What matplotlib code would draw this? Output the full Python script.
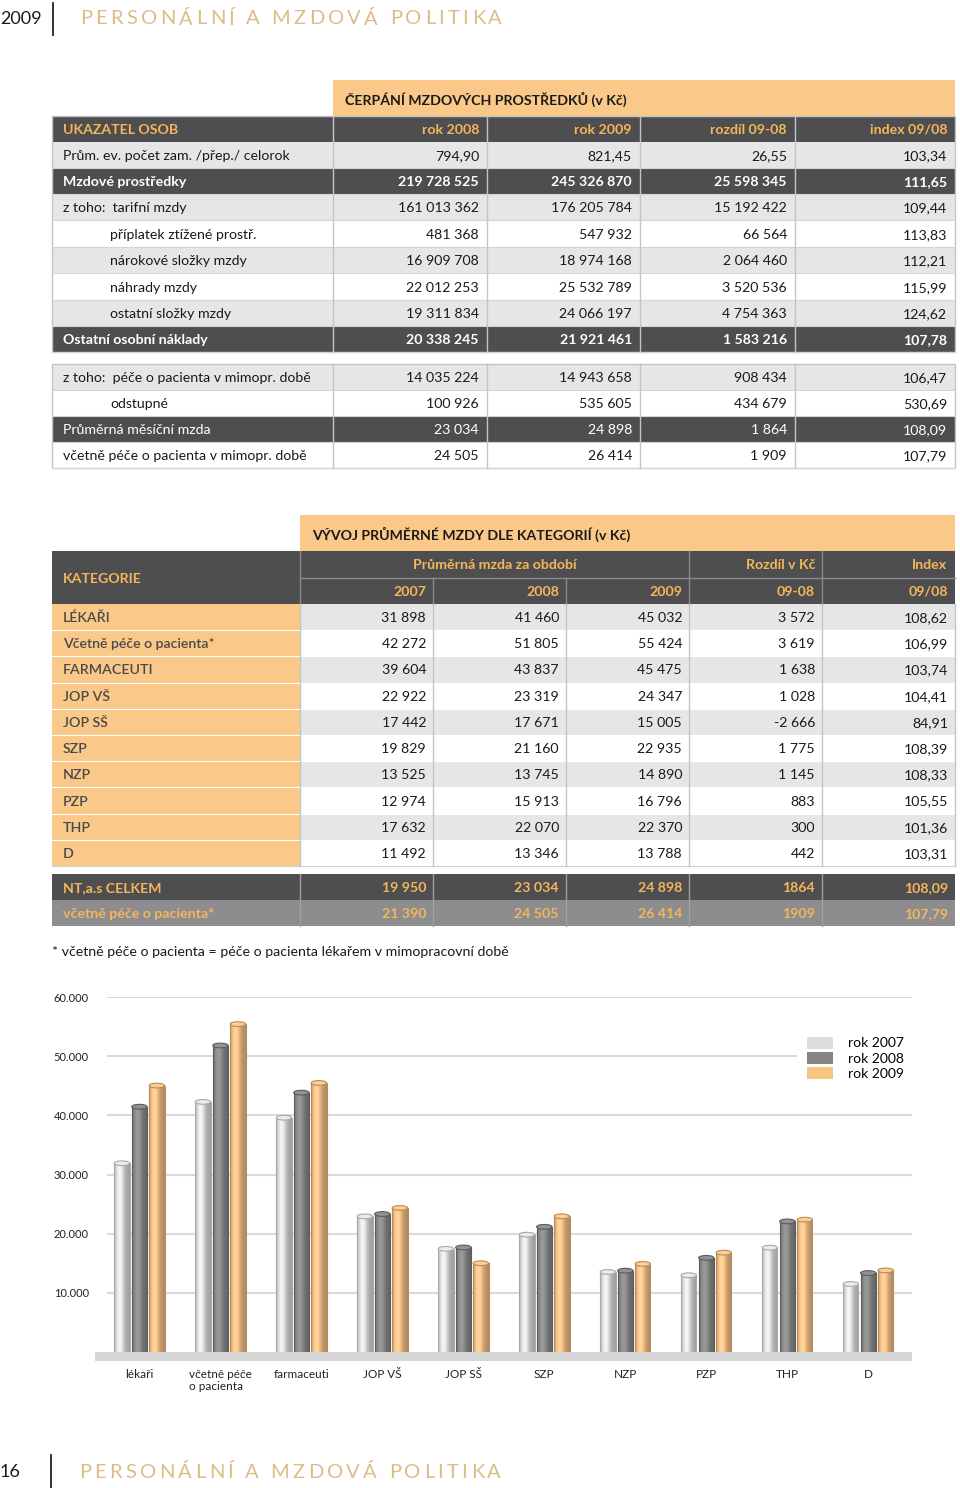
import numpy as np
import matplotlib.pyplot as plt
from matplotlib.patches import Rectangle, Ellipse, Patch
from matplotlib.colors import to_rgb

plt.rcParams['font.family'] = ['Lato', 'DejaVu Sans']

# ---- tabulka 1: čerpání mzdových prostředků ----
t1_cols = ["UKAZATEL OSOB", "rok 2008", "rok 2009", "rozdíl 09-08", "index 09/08"]
t1_labels = ["Prům. ev. počet zam. /přep./ celorok", "Mzdové prostředky",
             "z toho:  tarifní mzdy", "příplatek ztížené prostř.",
             "nárokové složky mzdy", "náhrady mzdy", "ostatní složky mzdy",
             "Ostatní osobní náklady", "z toho:  péče o pacienta v mimopr. době",
             "odstupné", "Průměrná měsíční mzda",
             "včetně péče o pacienta v mimopr. době"]
t1_2008 = ["794,90", "219 728 525", "161 013 362", "481 368", "16 909 708", "22 012 253",
           "19 311 834", "20 338 245", "14 035 224", "100 926", "23 034", "24 505"]
t1_2009 = ["821,45", "245 326 870", "176 205 784", "547 932", "18 974 168", "25 532 789",
           "24 066 197", "21 921 461", "14 943 658", "535 605", "24 898", "26 414"]
t1_rozdil = ["26,55", "25 598 345", "15 192 422", "66 564", "2 064 460", "3 520 536",
             "4 754 363", "1 583 216", "908 434", "434 679", "1 864", "1 909"]
t1_index = ["103,34", "111,65", "109,44", "113,83", "112,21", "115,99",
            "124,62", "107,78", "106,47", "530,69", "108,09", "107,79"]

# ---- tabulka 2: vývoj průměrné mzdy ----
kategorie = ["LÉKAŘI", "Včetně péče o pacienta*", "FARMACEUTI", "JOP VŠ", "JOP SŠ",
             "SZP", "NZP", "PZP", "THP", "D"]
mzda2007 = [31898, 42272, 39604, 22922, 17442, 19829, 13525, 12974, 17632, 11492]
mzda2008 = [41460, 51805, 43837, 23319, 17671, 21160, 13745, 15913, 22070, 13346]
mzda2009 = [45032, 55424, 45475, 24347, 15005, 22935, 14890, 16796, 22370, 13788]
rozdil2 = [3572, 3619, 1638, 1028, -2666, 1775, 1145, 883, 300, 442]
index2 = ["108,62", "106,99", "103,74", "104,41", "84,91", "108,39", "108,33",
          "105,55", "101,36", "103,31"]
celkem_labels = ["NT,a.s CELKEM", "včetně péče o pacienta*"]
celkem_vals = [["19 950", "23 034", "24 898", "1864", "108,09"],
               ["21 390", "24 505", "26 414", "1909", "107,79"]]

# ---- graf ----
graf_kat = ["lékaři", "včetně péče\no pacienta", "farmaceuti", "JOP VŠ", "JOP SŠ",
            "SZP", "NZP", "PZP", "THP", "D"]
roky = ["rok 2007", "rok 2008", "rok 2009"]
y_ticks = [10000, 20000, 30000, 40000, 50000, 60000]
y_ticklabels = ["10.000", "20.000", "30.000", "40.000", "50.000", "60.000"]

DARK = '#4e4e50'
LIGHT = '#e6e6e7'
ORANGE = '#fac888'
GOLD = '#f3b65a'
MID = '#8d8d8f'
TAN = '#dcbd85'
LINE = '#c4c4c4'


def fmt(v):
    return f"{v:,}".replace(",", " ")


W, H = 960, 1488
fig = plt.figure(figsize=(W / 100, H / 100), dpi=100)
page = fig.add_axes([0, 0, 1, 1])
page.set_xlim(0, W)
page.set_ylim(H, 0)
page.axis('off')


def box(x0, y0, x1, y1, fc, ec='none', lw=0):
    page.add_patch(Rectangle((x0, y0), x1 - x0, y1 - y0, facecolor=fc, edgecolor=ec, linewidth=lw))


def txt(x, y, s, ha='left', size=10.2, color='#1a1a1a', weight='normal'):
    page.text(x, y + 1, s, ha=ha, va='center', fontsize=size, color=color, fontweight=weight)


def spaced(x, y, s, width, size, color):
    r = fig.canvas.get_renderer()
    ws = []
    for ch in s:
        t = page.text(0, 0, ch, fontsize=size)
        ws.append(t.get_window_extent(r).width)
        t.remove()
    gap = (width - sum(ws)) / (len(s) - 1)
    for ch, w in zip(s, ws):
        page.text(x, y, ch, fontsize=size, color=color, va='center')
        x += w + gap


# záhlaví a zápatí stránky
txt(0, 18, "2009", size=13)
page.plot([53, 53], [3, 35], color='#222', lw=1.3)
spaced(80, 19, "PERSONÁLNÍ A MZDOVÁ POLITIKA", 422, 14.5, TAN)
txt(0, 1471, "16", size=13)
page.plot([51, 51], [1455, 1488], color='#222', lw=1.3)
spaced(79, 1472, "PERSONÁLNÍ A MZDOVÁ POLITIKA", 422, 14.5, TAN)

# ===== tabulka 1 =====
c1 = [52, 333, 487, 640, 795, 955]
box(333, 80, 955, 116, ORANGE)
txt(345, 98, "ČERPÁNÍ MZDOVÝCH PROSTŘEDKŮ (v Kč)", weight='bold')
box(52, 116, 955, 142, DARK)
txt(63, 129, t1_cols[0], color=GOLD, weight='bold')
for j in range(1, 5):
    txt(c1[j + 1] - 8, 129, t1_cols[j], ha='right', color=GOLD, weight='bold')

tops = [142, 168, 194, 221, 247, 274, 300, 326, 364, 390, 416, 442]
styl = ['l', 'd', 'l', 'w', 'l', 'w', 'l', 'd', 'l', 'w', 'n', 'w']
odsazeni = [3, 4, 5, 6, 9]
for i, lab in enumerate(t1_labels):
    y0 = tops[i]
    y1 = y0 + 26
    s = styl[i]
    fc = {'l': LIGHT, 'w': 'white', 'd': DARK, 'n': DARK}[s]
    box(52, y0, 955, y1, fc)
    col = 'white' if s in 'dn' else '#1a1a1a'
    wt = 'bold' if s == 'd' else 'normal'
    xl = 110 if i in odsazeni else 63
    yc = (y0 + y1) / 2
    txt(xl, yc, lab, color=col, weight=wt)
    for j, arr in enumerate([t1_2008, t1_2009, t1_rozdil, t1_index]):
        txt(c1[j + 2] - 8, yc, arr[i], ha='right', color=col, weight=wt)
    page.plot([52, 955], [y1, y1], color='#d4d4d4', lw=0.8)
for x in c1[1:-1]:
    page.plot([x, x], [116, 352], color=LINE, lw=1)
    page.plot([x, x], [364, 468], color=LINE, lw=1)
for (a, b) in [(116, 352), (364, 468)]:
    page.add_patch(Rectangle((52, a), 903, b - a, fill=False, edgecolor=LINE, lw=1))

# ===== tabulka 2 =====
c2 = [52, 300, 433, 566, 689, 822, 955]
box(300, 515, 955, 551, ORANGE)
txt(312, 533, "VÝVOJ PRŮMĚRNÉ MZDY DLE KATEGORIÍ (v Kč)", weight='bold')
box(52, 551, 955, 604, DARK)
txt(63, 578, "KATEGORIE", color=GOLD, weight='bold')
txt((300 + 689) / 2, 564, "Průměrná mzda za období", ha='center', color=GOLD, weight='bold')
txt(815, 564, "Rozdíl v Kč", ha='right', color=GOLD, weight='bold')
txt(947, 564, "Index", ha='right', color=GOLD, weight='bold')
for j, s in enumerate(["2007", "2008", "2009", "09-08", "09/08"]):
    txt(c2[j + 2] - 7, 591, s, ha='right', color=GOLD, weight='bold')
page.plot([300, 955], [578, 578], color='#8a8a8a', lw=1)
for x in [300, 689, 822]:
    page.plot([x, x], [551, 604], color='#8a8a8a', lw=1)
for x in [433, 566]:
    page.plot([x, x], [578, 604], color='#8a8a8a', lw=1)

rh = 26.2
for i, kat in enumerate(kategorie):
    y0 = 604 + i * rh
    yc = y0 + rh / 2
    box(52, y0, 300, y0 + rh, ORANGE)
    box(300, y0, 955, y0 + rh, LIGHT if i % 2 == 0 else 'white')
    txt(63, yc, kat, color='#4a4a4a', weight='semibold')
    vals = [fmt(mzda2007[i]), fmt(mzda2008[i]), fmt(mzda2009[i]), fmt(rozdil2[i]), index2[i]]
    for j, v in enumerate(vals):
        txt(c2[j + 2] - 7, yc, v, ha='right')
    page.plot([52, 955], [y0 + rh, y0 + rh], color='white' if i < 9 else '#d0d0d0', lw=0.8)
for x in c2[1:-1]:
    page.plot([x, x], [604, 604 + 10 * rh], color=LINE, lw=1)
page.plot([955, 955], [604, 604 + 10 * rh], color=LINE, lw=1)

for i, lab in enumerate(celkem_labels):
    y0 = 874 + i * 26
    yc = y0 + 13
    box(52, y0, 955, y0 + 26, DARK if i == 0 else MID)
    txt(63, yc, lab, color=GOLD, weight='bold')
    for j, v in enumerate(celkem_vals[i]):
        txt(c2[j + 2] - 7, yc, v, ha='right', color=GOLD, weight='bold')
for x in c2[1:-1]:
    page.plot([x, x], [874, 926], color='#a0a0a0', lw=1)

txt(52, 951, "* včetně péče o pacienta = péče o pacienta lékařem v mimopracovní době")

# ===== graf =====
box(95, 1352, 912, 1361, '#d6d6d6')
ax = fig.add_axes([107 / W, (H - 1352) / H, 805 / W, 355 / H])
ax.set_facecolor('none')
for sp in ax.spines.values():
    sp.set_visible(False)

x = np.arange(len(graf_kat))
barvy = ['#e0e0e0', '#8c8c8c', '#f9c38a']
hrany = ['#a9a9a9', '#5c5c5c', '#b98b5c']
posun = [-0.216, 0, 0.216]
sirka = 0.19
for k, data in enumerate([mzda2007, mzda2008, mzda2009]):
    bars = ax.bar(x + posun[k], data, sirka, color=barvy[k], zorder=2, linewidth=0)
    base = np.array(to_rgb(barvy[k]))
    t = np.linspace(0, 1, 64)
    f = 0.72 + 0.38 * np.exp(-((t - 0.35) / 0.3) ** 2)
    img = np.clip(base[None, :] * f[:, None], 0, 1)[None, :, :]
    for p in bars:
        im = ax.imshow(img, extent=[p.get_x(), p.get_x() + p.get_width(), 0, p.get_height()],
                       aspect='auto', zorder=2.5, interpolation='bilinear')
        im.set_clip_path(p)
        ax.add_patch(Ellipse((p.get_x() + p.get_width() / 2, p.get_height()), p.get_width(), 800,
                             facecolor=np.clip(base * 1.05, 0, 1), edgecolor=hrany[k], lw=0.8,
                             zorder=4))
    ax.bar(x + posun[k], data, sirka, fill=False, edgecolor=hrany[k], linewidth=0.8, zorder=3)

ax.set_xlim(-0.4, 9.54)
ax.set_ylim(0, 60000)
ax.set_yticks(y_ticks)
ax.set_yticklabels(y_ticklabels, fontsize=8, color='#222')
ax.set_xticks(x)
ax.set_xticklabels(graf_kat, fontsize=8.5, color='#222', multialignment='left', va='top')
ax.tick_params(axis='y', length=0, pad=13)
ax.tick_params(axis='x', length=0, pad=12)
ax.grid(axis='y', color='#dadada', lw=1.5, zorder=0)
ax.set_axisbelow(True)

ruce = [Patch(facecolor=c, edgecolor='none') for c in ['#dcdcdc', '#858585', '#f8c57e']]
fig.legend(ruce, roky, loc='upper left', bbox_to_anchor=(790 / W, 1 - 1020 / H),
           frameon=True, facecolor='white', edgecolor='none', framealpha=1, fancybox=False,
           fontsize=10, handlelength=1.9, handleheight=0.95, handletextpad=1.1,
           labelspacing=0.18, borderpad=0.7)

fig.savefig('out.png', dpi=100)
